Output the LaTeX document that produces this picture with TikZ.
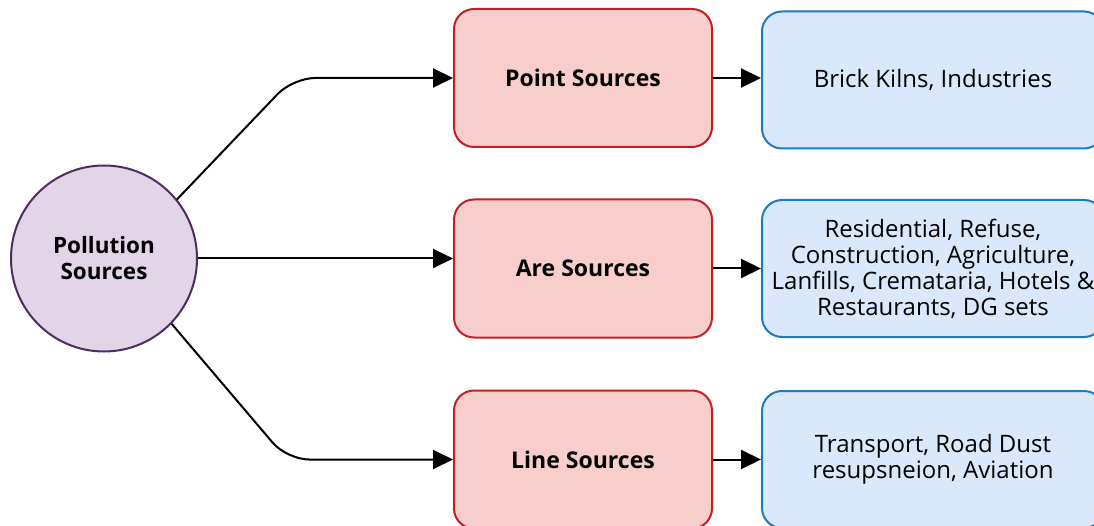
\documentclass[tikz,border=0pt]{standalone}
\usepackage{fontspec}
\setmainfont{Open Sans}
\usetikzlibrary{arrows.meta}

\definecolor{hubfill}{HTML}{E1D5E7}
\definecolor{hubline}{HTML}{4B2E5E}
\definecolor{typefill}{HTML}{F8CECC}
\definecolor{typeline}{HTML}{C41E24}
\definecolor{infofill}{HTML}{DAE8FC}
\definecolor{infoline}{HTML}{1F7AC0}

\tikzset{
  hub/.style={circle, draw=hubline, fill=hubfill, line width=2pt,
    minimum size=186pt, align=center, font=\fontsize{22.5}{26}\selectfont\bfseries},
  typebox/.style={rectangle, rounded corners=20pt, draw=typeline, fill=typefill,
    line width=2pt, minimum width=258pt, minimum height=138pt,
    font=\fontsize{23}{26}\selectfont\bfseries},
  infobox/.style={rectangle, rounded corners=20pt, draw=infoline, fill=infofill,
    line width=2pt, minimum width=342pt, minimum height=137pt, align=center,
    font=\fontsize{24}{26}\selectfont},
  link/.style={line width=2pt, -{Triangle[length=20pt,width=19pt]}}
}

\begin{document}
\begin{tikzpicture}[x=1pt,y=-1pt]
\useasboundingbox (0,0) rectangle (1094,526);

\node[hub] (src) at (104,258.5) {Pollution\\Sources};

\node[typebox] (pts) at (583,78) {Point Sources};
\node[typebox] (area) at (583,268.5) {Are Sources};
\node[typebox] (line) at (583,459.5) {Line Sources};

\node[infobox] (ptsinfo) at (933,80) {Brick Kilns, Industries};
\node[infobox] (areainfo) at (933,268.5) {Residential, Refuse,\\Construction, Agriculture,\\Lanfills, Cremataria, Hotels \&\\Restaurants, DG sets};
\node[infobox] (lineinfo) at (933,459.5) {Transport, Road Dust\\resupsneion, Aviation};

\coordinate (bendtop) at (293,78);
\coordinate (bendbot) at (287,459.5);

\draw[link, rounded corners=22pt] (src.39) -- (bendtop) -- (pts.west);
\draw[link] (src.east) -- (src.east -| area.west);
\draw[link, rounded corners=22pt] (src.-44) -- (bendbot) -- (line.west);

\draw[link] (pts.east) -- (ptsinfo.west |- pts.east);
\draw[link] (area.east) -- (areainfo.west |- area.east);
\draw[link] (line.east) -- (lineinfo.west |- line.east);
\end{tikzpicture}
\end{document}
